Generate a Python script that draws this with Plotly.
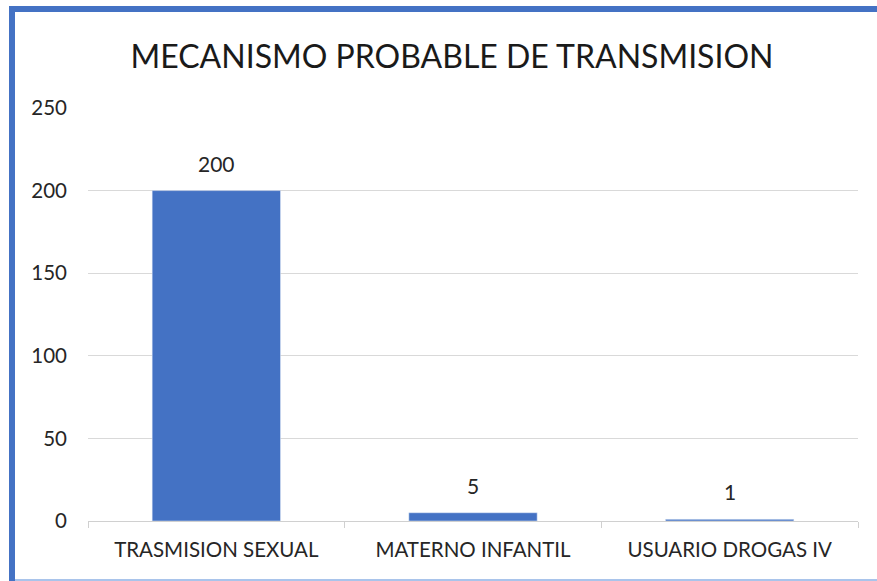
import plotly.graph_objects as go

categories = ["TRASMISION SEXUAL", "MATERNO INFANTIL", "USUARIO DROGAS IV"]
values = [200, 5, 1]
y_ticks = [0, 50, 100, 150, 200, 250]

W, H = 877, 581
L, R, T, B = 88, 19, 108, 60
pw, ph = W - L - R, H - T - B

def px(x):
    return (x - L) / pw

def py(y):
    return (H - B - y) / ph

fig = go.Figure(go.Bar(
    x=categories, y=values, marker_color="#4472C4",
))

for c, v in zip(categories, values):
    fig.add_annotation(x=c, y=v, text=str(v), showarrow=False, yanchor="bottom",
                       yshift=13, font=dict(size=21, color="#262626"))

font = "Lato"
fig.update_layout(
    width=W, height=H, margin=dict(l=L, r=R, t=T, b=B),
    paper_bgcolor="white", plot_bgcolor="white",
    bargap=0.5, showlegend=False,
    font=dict(family=font, color="#262626"),
    title=dict(text="MECANISMO PROBABLE DE TRANSMISION", xref="container", x=452 / W, xanchor="center",
               yref="container", y=1 - 57 / H, yanchor="middle", font=dict(size=32, color="#1a1a1a")),
    xaxis=dict(type="category", showgrid=False, showline=True, linecolor="#d0d0d0", linewidth=1,
               ticks="outside", tickson="boundaries", ticklen=6, tickcolor="#d0d0d0",
               ticklabelstandoff=10,
               tickfont=dict(size=20.5, color="#262626")),
    yaxis=dict(range=[0, 250], tickvals=y_ticks, showgrid=True, gridcolor="#d9d9d9", gridwidth=1,
               zeroline=False, showline=False, ticks="", ticklabelstandoff=20,
               tickfont=dict(size=20.5, color="#262626")),
)

shapes = [
    dict(type="rect", xref="paper", yref="paper", x0=px(9), x1=px(877), y0=py(12), y1=py(6),
         fillcolor="#4472C4", line_width=0, layer="above"),
    dict(type="rect", xref="paper", yref="paper", x0=px(9), x1=px(15), y0=py(581), y1=py(6),
         fillcolor="#4472C4", line_width=0, layer="above"),
    dict(type="rect", xref="paper", yref="paper", x0=px(15), x1=px(877), y0=py(581), y1=py(579),
         fillcolor="#a9c4eb", line_width=0, layer="above"),
]
fig.update_layout(shapes=shapes)

fig.write_html("out.html", config={"displayModeBar": False},
               post_script="document.body.style.margin='0';")
